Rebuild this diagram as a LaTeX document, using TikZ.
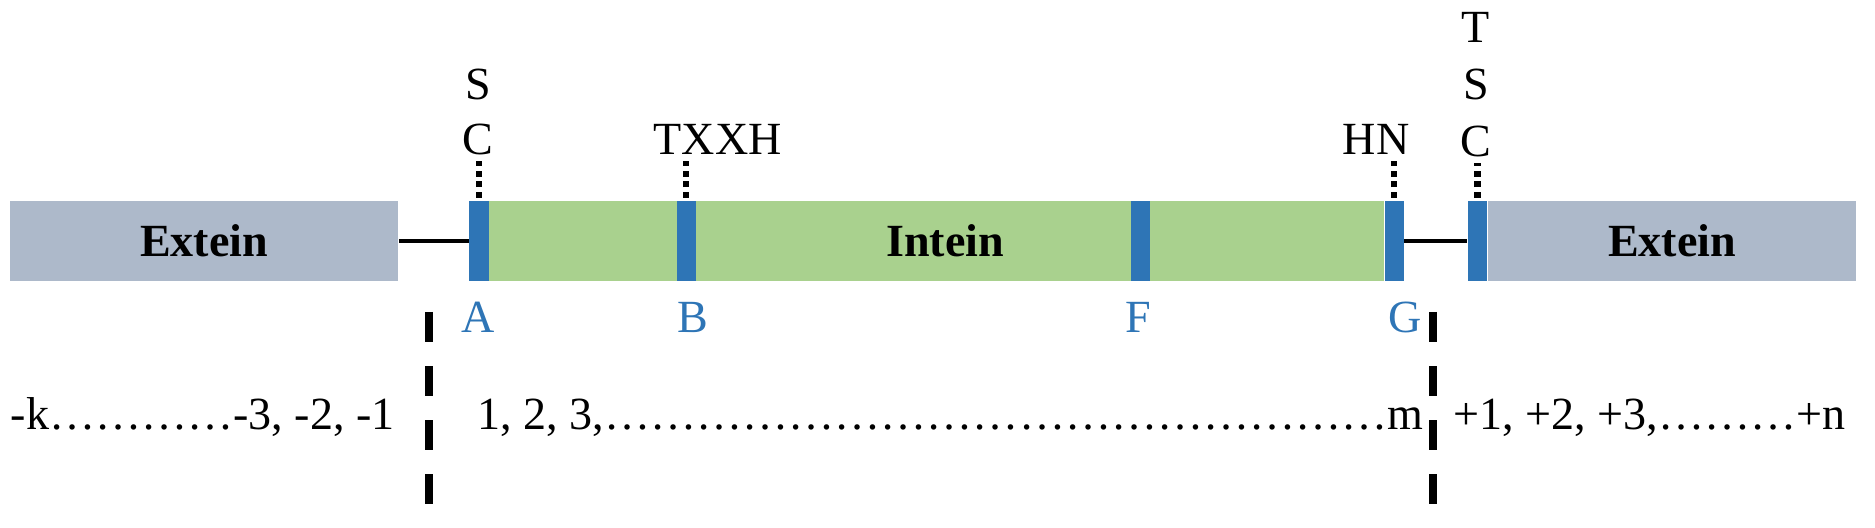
\documentclass[tikz,border=0pt]{standalone}
\usepackage{fontspec}
\setmainfont{Liberation Serif}
\definecolor{exteingrey}{HTML}{ADB9CA}
\definecolor{inteingreen}{HTML}{A9D18E}
\definecolor{motifblue}{HTML}{2E75B6}
\newcommand{\diagfont}{\fontsize{13.1}{15.7}\selectfont}
\newcommand{\dotrun}[1]{\foreach \k in {1,...,#1}{…}}
\tikzset{
  every node/.style={font=\diagfont},
  box/.style={inner sep=0pt,minimum height=0.79cm},
  motif/.style={box,fill=motifblue,minimum width=0.19cm},
  residue/.style={inner sep=0pt,anchor=base},
  blocklabel/.style={residue,text=motifblue},
  site/.style={line width=1.8pt,dash pattern=on 1.7pt off 1.3pt,shorten <=0.9pt,shorten >=1.4pt},
  cut/.style={line width=2pt,dash pattern=on 0.3cm off 0.24cm}
}
\begin{document}
\begin{tikzpicture}[x=0.01cm,y=-0.01cm]
    \useasboundingbox (0,0) rectangle (1875,528);
    % blocks
    \node[box,fill=exteingrey,minimum width=3.88cm,font=\diagfont\bfseries] (exteinL) at (204,241) {Extein};
    \node[box,fill=inteingreen,minimum width=8.95cm] (intein) at (936.5,241) {};
    \node[font=\diagfont\bfseries] (inteinlbl) at (945,241) {Intein};
    \node[box,fill=exteingrey,minimum width=3.68cm,font=\diagfont\bfseries] (exteinR) at (1672,241) {Extein};
    \node[motif] (barA) at (479,241) {};
    \node[motif] (barB) at (686,241) {};
    \node[motif] (barF) at (1140.5,241) {};
    \node[motif] (barG) at (1394,241) {};
    \node[motif] (barX) at (1477.5,241) {};
    \draw[line width=1.4pt] (exteinL.east) -- (barA.west);
    \draw[line width=1.4pt] (barG.east) -- (barX.west);
    % residues above
    \node[residue] (sA) at (478,100) {S};
    \node[residue] (cA) at (478,155) {C};
    \node[residue,anchor=base west] (txxh) at (653,155) {TXXH};
    \node[residue,anchor=base east] (hn) at (1410,155) {HN};
    \node[residue] (tX) at (1476,43) {T};
    \node[residue] (sX) at (1476,100) {S};
    \node[residue] (cX) at (1476,157) {C};
    \draw[site] (barA.north) -- (barA.north |- cA.south);
    \draw[site] (barB.north) -- (barB.north |- txxh.south);
    \draw[site] (barG.north) -- (barG.north |- hn.south);
    \draw[site] (barX.north) -- (barX.north |- cX.south);
    % blocks below
    \node[blocklabel] (lblA) at (478,333) {A};
    \node[blocklabel] (lblB) at (693,333) {B};
    \node[blocklabel] (lblF) at (1138,333) {F};
    \node[blocklabel] (lblG) at (1405,333) {G};
    % splice junctions
    \coordinate (cutLtop) at (429,312);
    \coordinate (cutLbot) at (429,504);
    \coordinate (cutRtop) at (1433,312);
    \coordinate (cutRbot) at (1433,504);
    \draw[cut] (cutLtop) -- (cutLbot);
    \draw[cut] (cutRtop) -- (cutRbot);
    % numbering
    \node[residue,anchor=base west] (numN) at (10,430) {-k\dotrun{4}-3, -2, -1};
    \node[residue,anchor=base west] (numI) at (477,430) {1, 2, 3,\dotrun{17}m};
    \node[residue,anchor=base west] (numC) at (1453,430) {+1, +2, +3,\dotrun{3}+n};
\end{tikzpicture}
\end{document}
